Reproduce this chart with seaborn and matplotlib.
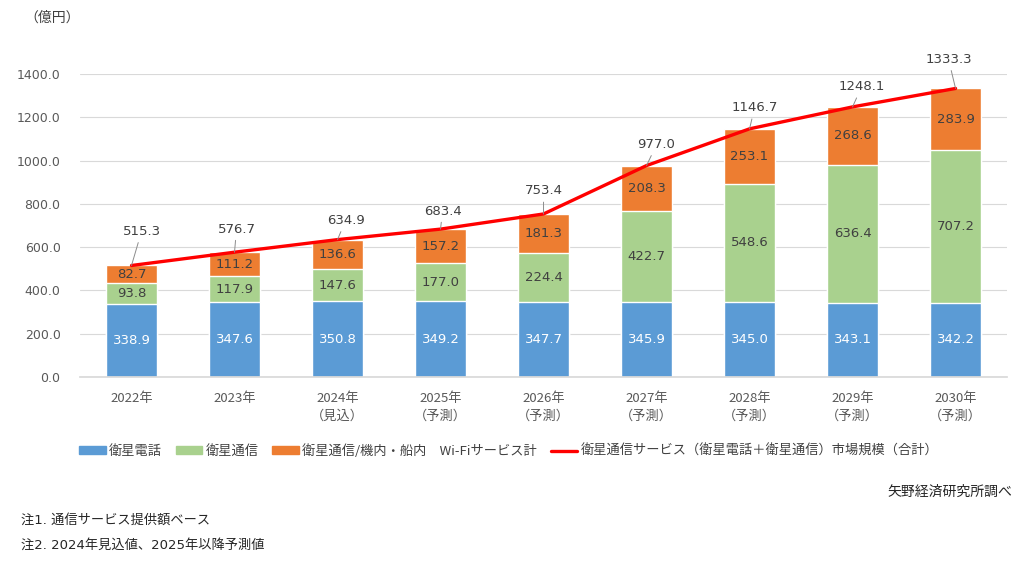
import matplotlib
matplotlib.use('Agg')
import matplotlib.pyplot as plt
from matplotlib.patches import Patch
from matplotlib.lines import Line2D
import numpy as np
import pandas as pd
import seaborn as sns

# data
years = ['2022年', '2023年', '2024年\n（見込）', '2025年\n（予測）', '2026年\n（予測）',
         '2027年\n（予測）', '2028年\n（予測）', '2029年\n（予測）', '2030年\n（予測）']
phone = [338.9, 347.6, 350.8, 349.2, 347.7, 345.9, 345.0, 343.1, 342.2]
comm = [93.8, 117.9, 147.6, 177.0, 224.4, 422.7, 548.6, 636.4, 707.2]
wifi = [82.7, 111.2, 136.6, 157.2, 181.3, 208.3, 253.1, 268.6, 283.9]
total = [515.3, 576.7, 634.9, 683.4, 753.4, 977.0, 1146.7, 1248.1, 1333.3]

# label offsets (pixels) of the total labels from the line points
label_off = [(10, 34), (2, 23), (8, 19), (2, 18), (0, 23), (10, 21), (5, 21), (9, 20), (-7, 29)]

c_phone = '#5B9BD5'
c_comm = '#A9D18E'
c_wifi = '#ED7D31'
c_line = '#FF0000'
txt = '#404040'

sns.set_theme(style='white')
plt.rcParams['font.family'] = ['DejaVu Sans', 'Noto Sans CJK JP']
jp = ['Noto Sans CJK JP', 'DejaVu Sans']

df = pd.DataFrame({'year': years, 'phone': phone, 'comm': comm, 'wifi': wifi})
df['lvl2'] = df['phone'] + df['comm']
df['lvl3'] = df['lvl2'] + df['wifi']

fig = plt.figure(figsize=(10.35, 5.65), dpi=100)
ax = fig.add_axes([0.0773, 0.3327, 0.8957, 0.5363])

# stacked bars by overlaying cumulative heights
sns.barplot(data=df, x='year', y='lvl3', color=c_wifi, saturation=1, width=0.5, ax=ax, zorder=2)
sns.barplot(data=df, x='year', y='lvl2', color=c_comm, saturation=1, width=0.5, ax=ax, zorder=2)
sns.barplot(data=df, x='year', y='phone', color=c_phone, saturation=1, width=0.5, ax=ax, zorder=2)

xs = np.arange(len(years))
sns.lineplot(x=xs, y=total, color=c_line, linewidth=2.4, ax=ax, zorder=4)

# segment labels
for i in range(len(years)):
    ax.text(i, phone[i] / 2, f'{phone[i]:.1f}', ha='center', va='center', color='white', fontsize=9.5, zorder=5)
    ax.text(i, phone[i] + comm[i] / 2, f'{comm[i]:.1f}', ha='center', va='center', color=txt, fontsize=9.5, zorder=5)
    ax.text(i, df['lvl2'][i] + wifi[i] / 2, f'{wifi[i]:.1f}', ha='center', va='center', color=txt, fontsize=9.5, zorder=5)
    dx, dy = label_off[i]
    ax.annotate(f'{total[i]:.1f}', xy=(i, total[i]), xytext=(dx, dy), textcoords='offset pixels',
                ha='center', va='center', color=txt, fontsize=9.5, zorder=6,
                arrowprops=dict(arrowstyle='-', color='#8c8c8c', lw=0.7, shrinkA=1, shrinkB=0))

ax.set_xlim(-0.5, 8.5)
ax.set_ylim(0, 1400)
ax.set_yticks(np.arange(0, 1401, 200))
ax.set_yticklabels([f'{v:.1f}' for v in np.arange(0, 1401, 200)])
ax.set_xlabel('')
ax.set_ylabel('')
ax.grid(axis='y', color='#d9d9d9', linewidth=0.8, zorder=0)
ax.set_axisbelow(True)
for s in ['top', 'right', 'left']:
    ax.spines[s].set_visible(False)
ax.spines['bottom'].set_color('#d9d9d9')
ax.tick_params(axis='y', length=0, pad=14, labelsize=9, labelcolor='#595959')
ax.tick_params(axis='x', length=0, pad=11, labelsize=9.5, labelcolor='#595959')
for t in ax.get_xticklabels():
    t.set_linespacing(1.4)
    t.set_fontfamily(jp)

handles = [Patch(color=c_phone), Patch(color=c_comm), Patch(color=c_wifi),
           Line2D([], [], color=c_line, lw=2.4)]
labels = ['衛星電話', '衛星通信', '衛星通信/機内・船内　Wi-Fiサービス計',
          '衛星通信サービス（衛星電話＋衛星通信）市場規模（合計）']
fig.legend(handles, labels, loc='center', bbox_to_anchor=(0.4915, 0.2018), ncol=4, frameon=False,
           prop={'family': jp, 'size': 9.5}, handlelength=2.0, handleheight=0.55,
           handletextpad=0.25, columnspacing=1.05, labelcolor=txt)

fig.text(0.024, 0.968, '（億円）', ha='left', va='center', fontsize=10, color=txt, family=jp)
fig.text(0.978, 0.129, '矢野経済研究所調べ', ha='right', va='center', fontsize=10, color='#262626', family=jp)
fig.text(0.020, 0.080, '注1. 通信サービス提供額ベース', ha='left', va='center', fontsize=9.5, color='#262626')
fig.text(0.020, 0.035, '注2. 2024年見込値、2025年以降予測値', ha='left', va='center', fontsize=9.5, color='#262626')

fig.savefig('out.png', dpi=100)
